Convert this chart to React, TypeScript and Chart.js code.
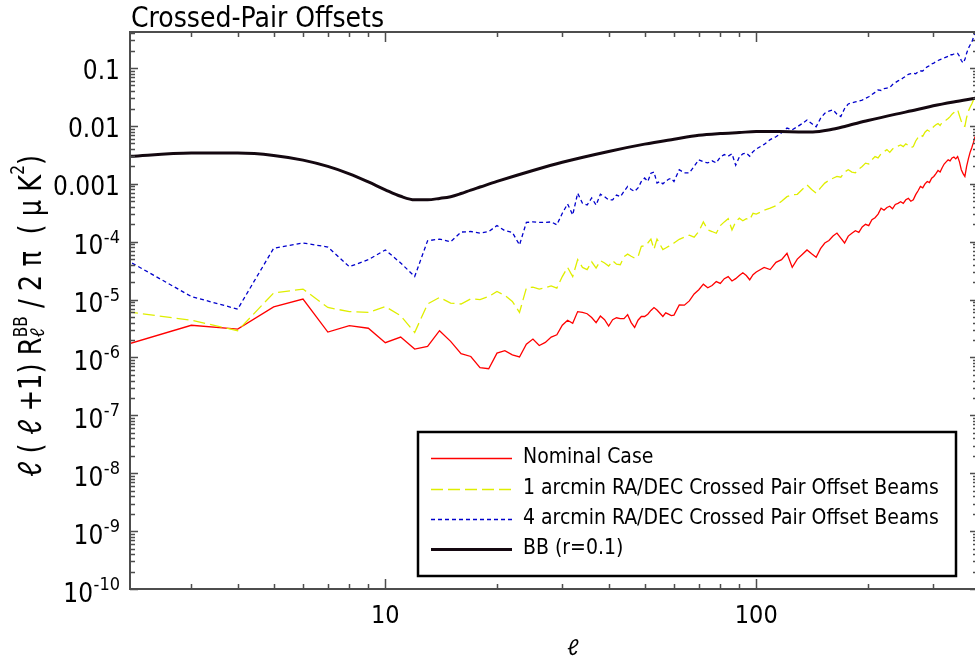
import React, { useEffect, useRef } from "react";
import { Chart, registerables } from "chart.js";

Chart.register(...registerables);

// ---------- data ----------
const ell = [
  2, 3, 4, 5, 6, 7, 8, 9, 10, 11, 12, 13, 14, 15, 16, 17, 18, 19, 20, 21, 22, 23, 24, 25, 26, 27, 28, 29, 30,
  31, 32, 33, 34, 35, 36, 37, 38, 39, 40, 41, 42, 43, 44, 45, 46, 47, 48, 49, 50, 51, 52, 53, 54, 55, 56, 57,
  58, 59, 60,
  62, 64, 66, 68, 70, 72, 74, 76, 78, 80, 82, 84, 86, 88, 90, 92, 94, 96, 98, 100,
  105, 109, 113, 117, 121, 125, 129, 133, 137, 141, 145, 149, 153, 157, 161, 165, 169, 173, 177, 181, 185,
  189, 193, 197, 201, 205, 209, 213, 217, 221, 225, 229, 233, 237, 241, 245, 249, 253, 257, 261, 265, 269,
  273, 277, 281, 285, 289, 293, 297, 301, 305, 309, 313, 317, 321, 325, 329, 333, 337, 341, 345, 349, 353,
  357, 361, 365, 369, 373, 377, 381, 385, 389,
];

const nominalCase = [
  1.66e-6, 3.6e-6, 3.1e-6, 7.5e-6, 1.02e-5, 2.75e-6, 3.55e-6, 3.2e-6, 1.8e-6, 2.25e-6, 1.4e-6, 1.55e-6, 2.9e-6,
  1.9e-6, 1.16e-6, 1.04e-6, 6.7e-7, 6.4e-7, 1.19e-6, 1.31e-6, 1.11e-6, 1.02e-6, 1.7e-6, 2.08e-6, 1.61e-6,
  1.82e-6, 2.25e-6, 2.47e-6, 3.6e-6, 4.4e-6, 3.9e-6, 6.2e-6, 6.0e-6, 5.7e-6, 4.9e-6, 4.0e-6, 5.2e-6, 4.5e-6,
  3.5e-6, 4.5e-6, 4.85e-6, 4.7e-6, 4.7e-6, 5.5e-6, 4.0e-6, 3.3e-6, 4.4e-6, 5.1e-6, 5.1e-6, 5.6e-6, 6.5e-6,
  7.3e-6, 6.6e-6, 5.8e-6, 5.1e-6, 5.9e-6, 5.6e-6, 5.3e-6, 5.4e-6,
  8.1e-6, 8.0e-6, 9.5e-6, 1.25e-5, 1.48e-5, 1.85e-5, 1.6e-5, 1.75e-5, 2.05e-5, 1.9e-5, 2.3e-5, 2.5e-5,
  2.1e-5, 2.3e-5, 2.6e-5, 2.9e-5, 2.6e-5, 2.2e-5, 2.7e-5, 3.0e-5,
  3.6e-5, 3.3e-5, 4.4e-5, 4.9e-5, 6.3e-5, 3.6e-5, 5.0e-5, 6.0e-5, 7.2e-5, 6.2e-5, 5.4e-5, 7.6e-5, 9.5e-5,
  1.05e-4, 1.25e-4, 1.41e-4, 1.15e-4, 9.5e-5, 1.25e-4, 1.4e-4, 1.55e-4, 1.45e-4, 1.8e-4, 2.0e-4, 1.9e-4,
  2.4e-4, 2.6e-4, 3.0e-4, 3.8e-4, 3.5e-4, 3.9e-4, 4.1e-4, 3.7e-4, 4.4e-4, 4.6e-4, 4.9e-4, 4.6e-4, 5.3e-4,
  5.6e-4, 5.0e-4, 5.3e-4, 6.5e-4, 7.6e-4, 9.0e-4, 8.5e-4, 1.0e-3, 1.1e-3, 1.05e-3, 1.25e-3, 1.34e-3, 1.5e-3,
  1.7e-3, 1.6e-3, 1.9e-3, 2.2e-3, 2.4e-3, 2.6e-3, 2.5e-3, 2.8e-3, 2.9e-3, 2.7e-3, 2.95e-3, 2.4e-3, 1.75e-3,
  1.5e-3, 1.34e-3, 2.0e-3, 2.7e-3, 3.5e-3, 4.2e-3, 5.2e-3, 6.6e-3,
];

const offset1arcmin = [
  6.2e-6, 4.4e-6, 2.9e-6, 1.3e-5, 1.52e-5, 7.3e-6, 6.2e-6, 6.0e-6, 7.6e-6, 5.25e-6, 2.7e-6, 8.4e-6, 1.09e-5,
  8.7e-6, 8.4e-6, 1.03e-5, 1.0e-5, 1.13e-5, 1.38e-5, 1.18e-5, 9.3e-6, 6.0e-6, 1.58e-5, 1.64e-5, 1.52e-5,
  1.6e-5, 1.73e-5, 1.58e-5, 2.5e-5, 3.6e-5, 2.5e-5, 4.9e-5, 3.6e-5, 3.3e-5, 4.5e-5, 3.5e-5, 4.7e-5, 4.3e-5,
  3.8e-5, 4.7e-5, 4.1e-5, 4.0e-5, 5.5e-5, 6.1e-5, 5.6e-5, 5.2e-5, 5.5e-5, 8.3e-5, 8.5e-5, 9.5e-5, 1.11e-4,
  7.4e-5, 1.11e-4, 9.0e-5, 7.3e-5, 7.8e-5, 8.3e-5, 8.8e-5, 9.5e-5,
  1.1e-4, 1.2e-4, 1.3e-4, 1.2e-4, 1.5e-4, 2.2e-4, 1.6e-4, 1.5e-4, 1.4e-4, 1.9e-4, 2.2e-4, 2.5e-4, 1.6e-4,
  2.2e-4, 2.55e-4, 2.3e-4, 2.5e-4, 2.4e-4, 3.1e-4, 3.0e-4,
  3.5e-4, 3.8e-4, 4.2e-4, 5.0e-4, 6.0e-4, 6.5e-4, 6.6e-4, 8.0e-4, 9.6e-4, 8.0e-4, 6.9e-4, 8.5e-4, 1.03e-3,
  1.15e-3, 1.25e-3, 1.34e-3, 1.3e-3, 1.6e-3, 1.75e-3, 1.6e-3, 1.55e-3, 1.8e-3, 2.0e-3, 2.28e-3, 2.2e-3,
  2.6e-3, 2.95e-3, 2.8e-3, 3.3e-3, 3.6e-3, 3.9e-3, 3.5e-3, 4.0e-3, 4.3e-3, 4.5e-3, 4.7e-3, 4.4e-3, 4.9e-3,
  4.6e-3, 4.2e-3, 4.4e-3, 5.5e-3, 6.3e-3, 7.0e-3, 6.6e-3, 7.8e-3, 8.5e-3, 8.1e-3, 9.0e-3, 9.8e-3, 1.05e-2,
  1.1e-2, 1.02e-2, 1.15e-2, 1.2e-2, 1.27e-2, 1.35e-2, 1.45e-2, 1.6e-2, 1.7e-2, 1.8e-2, 1.9e-2, 1.5e-2,
  1.2e-2, 1.0e-2, 9.8e-3, 1.4e-2, 1.8e-2, 2.1e-2, 2.4e-2, 2.8e-2, 3.2e-2,
];

const offset4arcmin = [
  4.9e-5, 1.13e-5, 6.85e-6, 7.7e-5, 9.5e-5, 8.1e-5, 3.7e-5, 4.9e-5, 7.2e-5, 4.3e-5, 2.5e-5, 1.04e-4, 1.11e-4,
  1.0e-4, 1.47e-4, 1.5e-4, 1.41e-4, 1.5e-4, 1.9e-4, 1.55e-4, 1.45e-4, 8.8e-5, 2.15e-4, 2.2e-4, 2.15e-4,
  2.15e-4, 2.2e-4, 1.96e-4, 3.1e-4, 4.5e-4, 2.9e-4, 6.9e-4, 4.6e-4, 4.3e-4, 5.7e-4, 4.3e-4, 6.6e-4, 6.0e-4,
  5.3e-4, 5.3e-4, 6.4e-4, 6.0e-4, 7.4e-4, 9.0e-4, 8.0e-4, 7.4e-4, 8.5e-4, 1.1e-3, 1.26e-3, 1.1e-3, 1.53e-3,
  1.6e-3, 1.03e-3, 1.1e-3, 1.0e-3, 1.1e-3, 1.2e-3, 1.25e-3, 1.1e-3,
  1.75e-3, 1.55e-3, 1.55e-3, 2.0e-3, 2.6e-3, 2.4e-3, 2.3e-3, 2.5e-3, 2.3e-3, 2.9e-3, 3.2e-3, 3.0e-3, 3.3e-3,
  2.1e-3, 2.9e-3, 3.3e-3, 3.4e-3, 3.0e-3, 3.6e-3, 4.0e-3,
  4.8e-3, 5.8e-3, 6.5e-3, 7.6e-3, 9.2e-3, 8.6e-3, 9.7e-3, 1.1e-2, 1.27e-2, 1.1e-2, 9.7e-3, 1.35e-2, 1.66e-2,
  1.8e-2, 1.9e-2, 1.6e-2, 1.45e-2, 2.0e-2, 2.4e-2, 2.5e-2, 2.6e-2, 2.7e-2, 2.8e-2, 3.0e-2, 3.2e-2, 3.5e-2,
  3.8e-2, 4.2e-2, 4.1e-2, 4.4e-2, 4.5e-2, 4.6e-2, 5.2e-2, 5.6e-2, 6.0e-2, 6.25e-2, 6.8e-2, 7.2e-2, 7.8e-2,
  8.0e-2, 8.2e-2, 8.0e-2, 8.6e-2, 8.9e-2, 8.9e-2, 9.8e-2, 0.105, 0.11, 0.118, 0.122, 0.13, 0.135, 0.14,
  0.145, 0.15, 0.155, 0.16, 0.17, 0.17, 0.175, 0.18, 0.18, 0.16, 0.135, 0.122, 0.14, 0.18, 0.22, 0.25, 0.28,
  0.34, 0.42,
];

const bbEll = [
  2, 3, 4, 5, 6, 7, 8, 9, 10, 11, 12, 13, 14, 15, 16, 17, 18, 20, 25, 30, 40, 50, 60, 70, 80, 90, 100, 116,
  130, 142, 158, 175, 200, 238, 270, 300, 340, 389,
];
const bbR01 = [
  0.00296, 0.0034, 0.0034, 0.0031, 0.00257, 0.002, 0.00149, 0.00108, 0.00079, 0.00061, 0.00053, 0.00053,
  0.00056, 0.0006, 0.00068, 0.00078, 0.00088, 0.0011, 0.0017, 0.00236, 0.00363, 0.00485, 0.0059, 0.0069,
  0.0074, 0.0077, 0.008, 0.008, 0.0079, 0.0079, 0.0086, 0.01, 0.0124, 0.016, 0.019, 0.0223, 0.026, 0.03,
];

const seriesLabels = [
  "Nominal Case",
  "1 arcmin RA/DEC Crossed Pair Offset Beams",
  "4 arcmin RA/DEC Crossed Pair Offset Beams",
  "BB (r=0.1)",
];

const xTickValues = [10, 100];
const xTickLabels = ["10", "100"];
const yTickValues = [1e-10, 1e-9, 1e-8, 1e-7, 1e-6, 1e-5, 1e-4, 1e-3, 1e-2, 1e-1];
const yTickBase = ["10", "10", "10", "10", "10", "10", "10", "0.001", "0.01", "0.1"];
const yTickExp = ["-10", "-9", "-8", "-7", "-6", "-5", "-4", "", "", ""];

const chartTitle = "Crossed-Pair Offsets";
const xAxisTitle = "\u2113";

const X_MIN = 2.05;
const X_MAX = 396;
const Y_MIN = 1e-10;
const Y_MAX = 0.42;

const FONT = '"DejaVu Sans Condensed", "DejaVu Sans", sans-serif';
const ELL_FONT = 'Lato, "Noto Sans", sans-serif';
const font = (px: number) => `${px}px ${FONT}`;
const ellFont = (px: number) => `${px}px ${ELL_FONT}`;
const AXIS_COLOR = "#4d4d4d";
const ELL = "\u2113";

// split a string so that the script-l uses a font with a looped glyph
function segments(str: string) {
  return str.split(/(\u2113)/).filter((s) => s.length > 0);
}
function measureMixed(ctx: CanvasRenderingContext2D, str: string, size: number) {
  let w = 0;
  segments(str).forEach((s) => {
    ctx.font = s === ELL ? ellFont(size) : font(size);
    w += ctx.measureText(s).width;
  });
  return w;
}
function drawMixed(ctx: CanvasRenderingContext2D, str: string, x: number, y: number, size: number) {
  let cx = x;
  segments(str).forEach((s) => {
    ctx.font = s === ELL ? ellFont(size) : font(size);
    ctx.fillText(s, cx, y);
    cx += ctx.measureText(s).width;
  });
  return cx - x;
}

function drawYTitle(ctx: CanvasRenderingContext2D) {
  const MAIN = 32;
  const SMALL = 19;
  type Piece = { texts: { t: string; dy: number }[]; size: number };
  const pieces: Piece[] = [
    { texts: [{ t: "\u2113 ( \u2113 +1) R", dy: 0 }], size: MAIN },
    { texts: [{ t: "BB", dy: -14 }, { t: "\u2113", dy: 3 }], size: SMALL },
    { texts: [{ t: " / 2 \u03c0  ( \u03bc K", dy: 0 }], size: MAIN },
    { texts: [{ t: "2", dy: -17 }], size: SMALL },
    { texts: [{ t: ")", dy: 0 }], size: MAIN },
  ];
  const widths = pieces.map((p) => Math.max(...p.texts.map((q) => measureMixed(ctx, q.t, p.size))));
  const total = widths.reduce((a, b) => a + b, 0);
  const target = 322;
  const s = target / total;
  ctx.save();
  ctx.translate(40.5, 316);
  ctx.rotate(-Math.PI / 2);
  ctx.scale(s, 1);
  ctx.fillStyle = "#000";
  ctx.textAlign = "left";
  ctx.textBaseline = "alphabetic";
  let x = -total / 2;
  pieces.forEach((p, i) => {
    p.texts.forEach((q) => drawMixed(ctx, q.t, x, q.dy, p.size));
    x += widths[i];
  });
  ctx.restore();
}

const decorPlugin = {
  id: "decor",
  afterDraw(chart: any) {
    const ctx: CanvasRenderingContext2D = chart.ctx;
    const { left, right, top, bottom } = chart.chartArea;
    const xs = chart.scales.x;
    const ys = chart.scales.y;
    ctx.save();

    // frame
    ctx.strokeStyle = AXIS_COLOR;
    ctx.lineWidth = 2;
    ctx.strokeRect(left, top, right - left, bottom - top);

    // ticks (inward)
    ctx.lineWidth = 1.5;
    ctx.beginPath();
    for (let e = 0; e <= 2; e++) {
      for (let k = 1; k <= 9; k++) {
        const v = Number(`${k}e${e}`);
        if (v < X_MIN || v > X_MAX) continue;
        const px = Math.round(xs.getPixelForValue(v)) + 0.5;
        const len = k === 1 ? 10 : 5;
        ctx.moveTo(px, bottom);
        ctx.lineTo(px, bottom - len);
        ctx.moveTo(px, top);
        ctx.lineTo(px, top + len);
      }
    }
    for (let e = -10; e <= -1; e++) {
      for (let k = 1; k <= 9; k++) {
        const v = Number(`${k}e${e}`);
        if (v < Y_MIN || v > Y_MAX) continue;
        const py = Math.round(ys.getPixelForValue(v)) + 0.5;
        const len = k === 1 ? 8 : 5;
        ctx.moveTo(left, py);
        ctx.lineTo(left + len, py);
        ctx.moveTo(right, py);
        ctx.lineTo(right - len, py);
      }
    }
    ctx.stroke();

    // tick labels
    ctx.fillStyle = "#000";
    ctx.textBaseline = "alphabetic";
    ctx.font = font(25);
    ctx.textAlign = "center";
    xTickValues.forEach((v, i) => {
      ctx.fillText(xTickLabels[i], xs.getPixelForValue(v), 623);
    });
    yTickValues.forEach((v, i) => {
      const py = ys.getPixelForValue(v);
      const exp = yTickExp[i];
      ctx.textAlign = "right";
      if (exp) {
        ctx.font = font(18);
        const w = ctx.measureText(exp).width;
        ctx.fillText(exp, 120, py + 1);
        ctx.font = font(26);
        ctx.fillText(yTickBase[i], 120 - w - 0.5, py + 12.5);
      } else {
        ctx.font = font(26);
        ctx.fillText(yTickBase[i], 120, py + 11);
      }
    });

    // titles
    ctx.textAlign = "left";
    ctx.font = font(28);
    ctx.fillText(chartTitle, 131, 27);
    ctx.textAlign = "center";
    ctx.font = ellFont(22);
    ctx.fillText(xAxisTitle, 573, 655);
    drawYTitle(ctx);

    // legend
    const L = { x0: 418, y0: 432, x1: 956, y1: 576 };
    ctx.fillStyle = "#fff";
    ctx.fillRect(L.x0, L.y0, L.x1 - L.x0, L.y1 - L.y0);
    ctx.strokeStyle = "#000";
    ctx.lineWidth = 2.5;
    ctx.strokeRect(L.x0, L.y0, L.x1 - L.x0, L.y1 - L.y0);
    const rows = [458, 489, 519, 549];
    chart.data.datasets.forEach((ds: any, i: number) => {
      ctx.save();
      ctx.strokeStyle = ds.borderColor;
      ctx.lineWidth = ds.borderWidth;
      ctx.setLineDash(ds.borderDash || []);
      ctx.beginPath();
      ctx.moveTo(431, rows[i] + 0.5);
      ctx.lineTo(512, rows[i] + 0.5);
      ctx.stroke();
      ctx.restore();
      ctx.fillStyle = "#000";
      ctx.textAlign = "left";
      ctx.textBaseline = "middle";
      ctx.font = font(21);
      ctx.fillText(ds.label, 523, rows[i]);
    });
    ctx.restore();
  },
};

export default function App() {
  const ref = useRef<HTMLCanvasElement>(null);
  useEffect(() => {
    const canvas = ref.current;
    if (!canvas) return;
    const pts = (vals: number[], xs: number[]) => xs.map((x, i) => ({ x, y: vals[i] }));
    const chart = new Chart(canvas, {
      type: "line",
      data: {
        datasets: [
          {
            label: seriesLabels[0],
            data: pts(nominalCase, ell),
            borderColor: "#ff0000",
            borderWidth: 1.3,
            pointRadius: 0,
            tension: 0,
            order: 3,
          },
          {
            label: seriesLabels[1],
            data: pts(offset1arcmin, ell),
            borderColor: "#dfee00",
            borderWidth: 1.3,
            borderDash: [12, 5],
            pointRadius: 0,
            tension: 0,
            order: 2,
          },
          {
            label: seriesLabels[2],
            data: pts(offset4arcmin, ell),
            borderColor: "#0000cc",
            borderWidth: 1.3,
            borderDash: [4, 3],
            pointRadius: 0,
            tension: 0,
            order: 1,
          },
          {
            label: seriesLabels[3],
            data: pts(bbR01, bbEll),
            borderColor: "#140810",
            borderWidth: 3,
            pointRadius: 0,
            cubicInterpolationMode: "monotone",
            order: 0,
          },
        ] as any,
      },
      options: {
        responsive: false,
        animation: false,
        devicePixelRatio: 1,
        layout: { padding: { left: 130, top: 32, right: 2, bottom: 71 } },
        plugins: { legend: { display: false }, tooltip: { enabled: false }, title: { display: false } },
        scales: {
          x: { type: "logarithmic", min: X_MIN, max: X_MAX, display: false },
          y: { type: "logarithmic", min: Y_MIN, max: Y_MAX, display: false },
        },
      },
      plugins: [decorPlugin],
    });
    return () => chart.destroy();
  }, []);
  return (
    <div
      style={{
        position: "absolute",
        left: 0,
        top: 0,
        width: 975,
        height: 660,
        overflow: "hidden",
        background: "#fff",
      }}
    >
      <canvas ref={ref} width={980} height={660} style={{ display: "block", width: 980, height: 660 }} />
    </div>
  );
}
